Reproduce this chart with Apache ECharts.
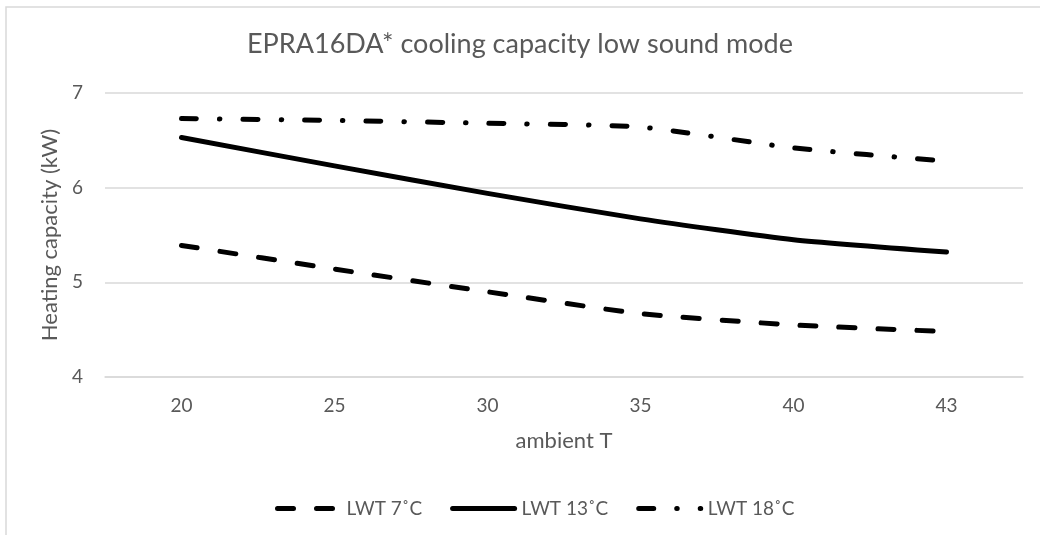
<!DOCTYPE html>
<html>
<head>
<meta charset="utf-8">
<script src="https://cdn.jsdelivr.net/npm/echarts@6/dist/echarts.min.js"></script>
<style>
  html, body { margin: 0; padding: 0; background: #fff; }
  #main { width: 1040px; height: 535px; }
</style>
</head>
<body>
<div id="main"></div>
<script>
// ambient temperature categories
var categories = ['20', '25', '30', '35', '40', '43'];
// heating capacity per leaving water temperature (kW)
var lwt7 = [5.39, 5.14, 4.90, 4.67, 4.55, 4.48];
var lwt13 = [6.53, 6.23, 5.94, 5.67, 5.45, 5.32];
var lwt18 = [6.73, 6.71, 6.68, 6.64, 6.42, 6.28];
var seriesNames = ['LWT 7˚C', 'LWT 13˚C', 'LWT 18˚C'];

var textColor = '#595959';
var fontFamily = 'Lato, "Open Sans", sans-serif';

var myChart = echarts.init(document.getElementById('main'));

function lineSeries(name, data, dash) {
  return {
    name: name,
    type: 'line',
    data: data,
    smooth: 0.2,
    showSymbol: false,
    symbol: 'none',
    lineStyle: {
      color: '#000',
      width: 5,
      type: dash,
      cap: 'round',
      join: 'round'
    },
    itemStyle: { color: '#000' }
  };
}

var option = {
  backgroundColor: '#fff',
  animation: false,
  title: {
    text: 'EPRA16DA* cooling capacity low sound mode',
    left: 'center',
    top: 26,
    textStyle: { color: textColor, fontSize: 27, fontWeight: 'normal', fontFamily: fontFamily }
  },
  graphic: [{
    type: 'rect',
    shape: { x: 6, y: 7, width: 1200, height: 800 },
    style: { fill: 'none', stroke: '#d9d9d9', lineWidth: 1.5 },
    silent: true
  }],
  legend: {
    data: seriesNames,
    left: 270,
    top: 494,
    itemWidth: 62,
    itemHeight: 14,
    itemGap: 28,
    itemStyle: { opacity: 0 },
    lineStyle: { width: 5, cap: 'round' },
    textStyle: { color: textColor, fontSize: 19, fontFamily: fontFamily, padding: [0, 0, 0, 2] }
  },
  grid: { left: 105, right: 17, top: 93, bottom: 158 },
  xAxis: {
    type: 'category',
    data: categories,
    boundaryGap: true,
    name: 'ambient T',
    nameLocation: 'middle',
    nameGap: 53,
    nameTextStyle: { color: textColor, fontSize: 22, fontFamily: fontFamily },
    axisLine: { show: true, lineStyle: { color: '#d9d9d9', width: 1.5 } },
    axisTick: { show: false },
    axisLabel: { color: textColor, fontSize: 19, fontFamily: fontFamily, margin: 19 }
  },
  yAxis: {
    type: 'value',
    min: 4,
    max: 7,
    interval: 1,
    name: 'Heating capacity (kW)',
    nameLocation: 'middle',
    nameGap: 37,
    nameTextStyle: { color: textColor, fontSize: 22, fontFamily: fontFamily },
    axisLine: { show: false },
    axisTick: { show: false },
    axisLabel: { color: textColor, fontSize: 19, fontFamily: fontFamily, margin: 22 },
    splitLine: { lineStyle: { color: '#d9d9d9', width: 1.5 } }
  },
  series: [
    lineSeries(seriesNames[0], lwt7, [16, 23]),
    lineSeries(seriesNames[1], lwt13, 'solid'),
    lineSeries(seriesNames[2], lwt18, [15, 23, 0.5, 23])
  ]
};

myChart.setOption(option);
</script>
</body>
</html>
